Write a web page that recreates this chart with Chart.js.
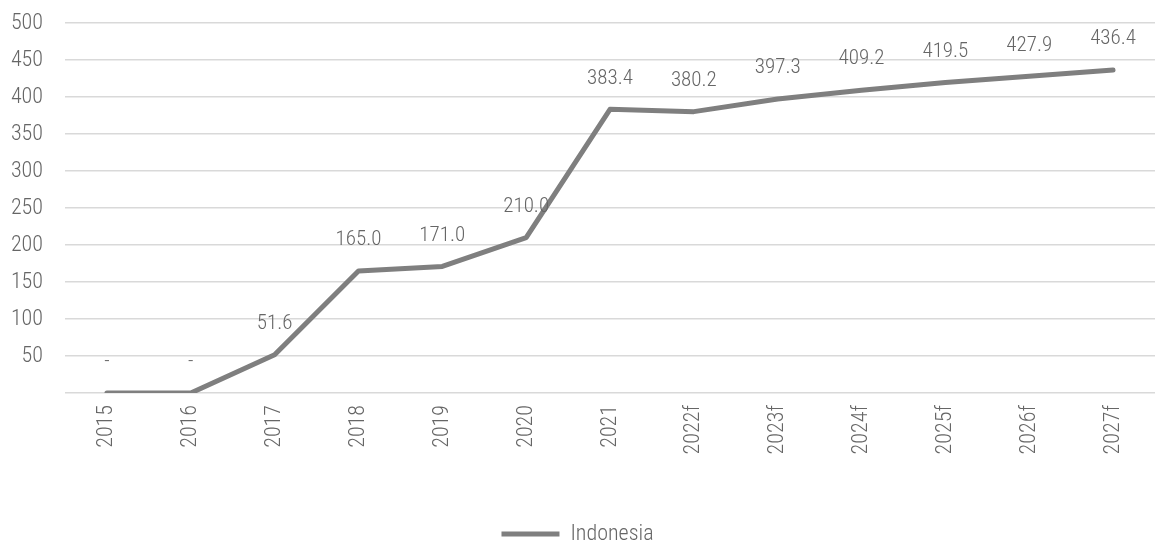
<!DOCTYPE html>
<html>
<head>
<meta charset="utf-8">
<script src="https://cdn.jsdelivr.net/npm/chart.js@4.4.1/dist/chart.umd.min.js"></script>
<style>
  html, body { margin: 0; padding: 0; background: #fff; }
  #wrap { width: 1155px; height: 545px; }
</style>
</head>
<body>
<div id="wrap"><canvas id="chart"></canvas></div>
<script>
// ===============================
// Data
// ===============================
const years = ["2015", "2016", "2017", "2018", "2019", "2020", "2021",
  "2022f", "2023f", "2024f", "2025f", "2026f", "2027f"];
const indonesia = [0, 0, 51.6, 165.0, 171.0, 210.0, 383.4,
  380.2, 397.3, 409.2, 419.5, 427.9, 436.4];
const yTicks = [50, 100, 150, 200, 250, 300, 350, 400, 450, 500];

const FONT = "'Roboto Condensed', 'Liberation Sans', sans-serif";
const TEXT = "#666666";
const LINE = "#7f7f7f";
const SIZE = 22;

// value labels above each point, zeros shown as a dash
const valueLabels = {
  id: "valueLabels",
  afterDatasetsDraw(chart) {
    const ctx = chart.ctx;
    const meta = chart.getDatasetMeta(0);
    ctx.save();
    ctx.font = "300 21px " + FONT;
    ctx.fillStyle = TEXT;
    ctx.textAlign = "center";
    ctx.textBaseline = "middle";
    meta.data.forEach((pt, i) => {
      const v = indonesia[i];
      const txt = v === 0 ? "-" : v.toFixed(1);
      ctx.fillText(txt, pt.x, pt.y - 31);
    });
    ctx.restore();
  }
};

const tickFont = { family: FONT, size: SIZE, weight: "300" };

new Chart(document.getElementById("chart"), {
  type: "line",
  data: {
    labels: years,
    datasets: [{
      label: "Indonesia",
      data: indonesia,
      borderColor: LINE,
      backgroundColor: LINE,
      borderWidth: 5,
      pointRadius: 0,
      tension: 0,
      borderCapStyle: "round",
      borderJoinStyle: "round"
    }]
  },
  options: {
    responsive: true,
    maintainAspectRatio: false,
    animation: false,
    layout: { padding: { top: 0, left: 0, right: 0, bottom: -10 } },
    plugins: {
      tooltip: { enabled: false },
      legend: {
        position: "bottom",
        labels: {
          usePointStyle: true,
          pointStyle: "line",
          pointStyleWidth: 58,
          boxHeight: 5,
          color: TEXT,
          font: tickFont,
          padding: 4
        }
      }
    },
    scales: {
      x: {
        offset: true,
        grid: { display: false, drawTicks: false },
        border: { display: false },
        ticks: {
          color: TEXT,
          font: tickFont,
          minRotation: 90,
          maxRotation: 90,
          padding: 12
        },
        afterFit(scale) {
          scale.height = 126;
          scale.paddingLeft = 0;
          scale.paddingRight = 0;
        }
      },
      y: {
        min: 0,
        max: 500,
        afterBuildTicks(scale) {
          scale.ticks = [0].concat(yTicks).map(v => ({ value: v }));
        },
        grid: { color: "#d9d9d9", lineWidth: 1.5, drawTicks: false },
        border: { display: false },
        ticks: {
          color: TEXT,
          font: tickFont,
          padding: 22,
          callback: v => (v === 0 ? "" : v)
        },
        afterFit(scale) {
          scale.width = 65;
          scale.paddingTop = 23;
          scale.paddingBottom = 0;
        }
      }
    }
  },
  plugins: [valueLabels]
});
</script>
</body>
</html>
